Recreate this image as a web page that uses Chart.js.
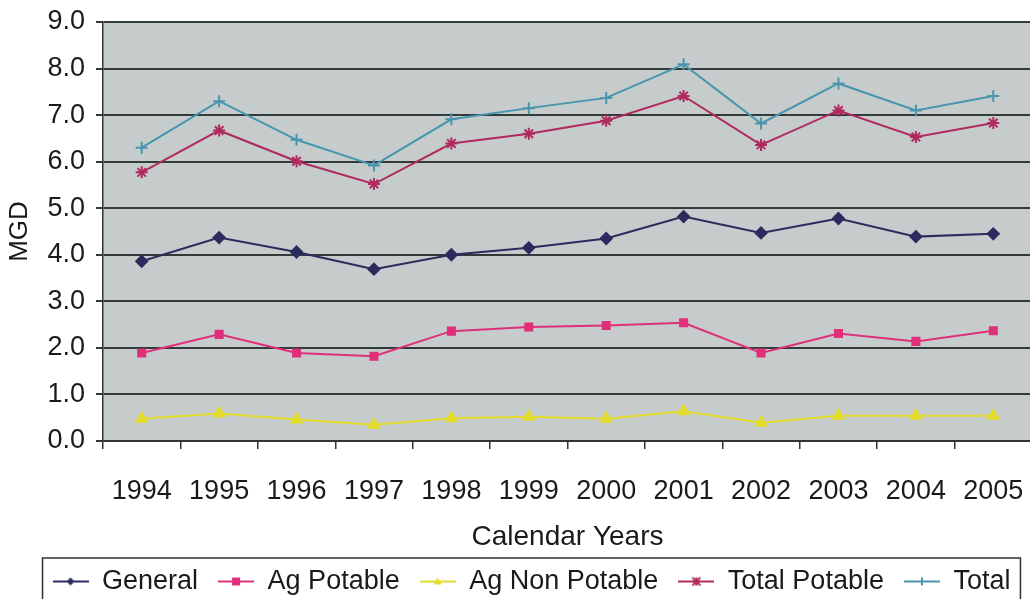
<!DOCTYPE html>
<html>
<head>
<meta charset="utf-8">
<script src="https://cdn.jsdelivr.net/npm/chart.js@4.4.1/dist/chart.umd.min.js"></script>
<style>
  html, body { margin: 0; padding: 0; background: #fff; overflow: hidden; }
  #wrap { width: 1040px; height: 605px; }
</style>
</head>
<body>
<div id="wrap"><canvas id="myChart" width="1040" height="605"></canvas></div>
<script>
const years = ['1994', '1995', '1996', '1997', '1998', '1999', '2000', '2001', '2002', '2003', '2004', '2005'];
const general = [3.86, 4.37, 4.06, 3.69, 4.00, 4.15, 4.35, 4.82, 4.47, 4.78, 4.39, 4.45];
const agPotable = [1.89, 2.29, 1.89, 1.82, 2.36, 2.45, 2.48, 2.54, 1.89, 2.31, 2.14, 2.37];
const agNonPotable = [0.48, 0.59, 0.46, 0.35, 0.49, 0.52, 0.48, 0.64, 0.39, 0.54, 0.54, 0.54];
const totalPotable = [5.77, 6.67, 6.01, 5.52, 6.39, 6.60, 6.88, 7.41, 6.36, 7.10, 6.53, 6.83];
const total = [6.30, 7.30, 6.47, 5.92, 6.91, 7.15, 7.37, 8.09, 6.82, 7.68, 7.10, 7.41];

const FONT = "'Liberation Sans', Arial, sans-serif";

// little line + marker pictures for the legend
function legendIcon(color, style) {
    let c = document.createElement('canvas');
    c.width = 36; c.height = 14;
    let g = c.getContext('2d');
    g.strokeStyle = color; g.fillStyle = color; g.lineWidth = 2;
    g.beginPath(); g.moveTo(0, 7); g.lineTo(36, 7); g.stroke();
    let x = 18, y = 7, r = 4;
    g.beginPath();
    if (style == 'rectRot') {
        g.moveTo(x, y - r); g.lineTo(x + r, y); g.lineTo(x, y + r); g.lineTo(x - r, y); g.closePath(); g.fill();
    } else if (style == 'rect') {
        g.fillRect(x - r, y - r, r * 2, r * 2);
    } else if (style == 'triangle') {
        g.moveTo(x, y - r); g.lineTo(x + r, y + r - 1); g.lineTo(x - r, y + r - 1); g.closePath(); g.fill();
    } else if (style == 'star') {
        g.moveTo(x - r, y - r); g.lineTo(x + r, y + r); g.moveTo(x + r, y - r); g.lineTo(x - r, y + r);
        g.moveTo(x, y - r); g.lineTo(x, y + r); g.stroke();
    } else {
        g.moveTo(x, y - r); g.lineTo(x, y + r); g.stroke();
    }
    return c;
}

const series = [
    { label: 'General', data: general, color: '#2b2b5e', style: 'rectRot', radius: 5.5 },
    { label: 'Ag Potable', data: agPotable, color: '#e0307a', style: 'rect', radius: 5 },
    { label: 'Ag Non Potable', data: agNonPotable, color: '#e4dc2c', style: 'triangle', radius: 6 },
    { label: 'Total Potable', data: totalPotable, color: '#b02a5c', style: 'star', radius: 6 },
    { label: 'Total', data: total, color: '#4896ae', style: 'cross', radius: 6 }
];

const plotBg = {
    id: 'plotBg',
    beforeDraw(chart) {
        const a = chart.chartArea, ctx = chart.ctx;
        ctx.save();
        ctx.fillStyle = '#c6cccc';
        ctx.fillRect(a.left, a.top, a.right - a.left, a.bottom - a.top);
        ctx.restore();
    }
};

const legendBox = {
    id: 'legendBox',
    afterLayout(chart) {
        // move the legend a little to the right, like the original
        chart.legend.left += 15;
        chart.legend.right += 15;
    },
    afterDraw(chart) {
        const boxes = chart.legend.legendHitBoxes;
        if (!boxes || !boxes.length) return;
        const ctx = chart.ctx;
        let l = boxes[0].left - 10;
        let r = boxes[boxes.length - 1].left + boxes[boxes.length - 1].width + 10;
        let t = boxes[0].top - 10;
        let b = boxes[0].top + boxes[0].height + 10;
        ctx.save();
        ctx.strokeStyle = '#333';
        ctx.lineWidth = 1.5;
        ctx.strokeRect(l, t, r - l, b - t);
        ctx.restore();
    }
};

const ctx = document.getElementById('myChart');

new Chart(ctx, {
    type: 'line',
    data: {
        labels: years,
        datasets: series.map(s => ({
            label: s.label,
            data: s.data,
            borderColor: s.color,
            backgroundColor: s.color,
            borderWidth: 2,
            pointStyle: s.style,
            pointRadius: s.radius,
            pointBorderWidth: 2,
            pointBorderColor: s.color,
            pointBackgroundColor: s.color,
            tension: 0
        }))
    },
    options: {
        responsive: false,
        animation: false,
        layout: { padding: { top: 22, right: 7, left: 0, bottom: 0 } },
        scales: {
            x: {
                offset: true,
                afterFit: function (scale) {
                    scale.height = 107;
                    scale.paddingLeft = 0;
                    scale.paddingRight = 0;
                },
                grid: { offset: true, drawOnChartArea: false, color: '#333', tickLength: 8, lineWidth: 1.5 },
                border: { color: '#333', width: 1.5 },
                ticks: { font: { family: FONT, size: 27 }, color: '#1a1a1a', padding: 26, maxRotation: 0 },
                title: { display: true, text: 'Calendar Years', font: { family: FONT, size: 28 }, color: '#1a1a1a', padding: { top: 0, bottom: -6 } }
            },
            y: {
                min: 0,
                max: 9,
                afterFit: function (scale) {
                    scale.width = 103;
                    scale.paddingTop = 0;
                    scale.paddingBottom = 0;
                },
                grid: { color: '#323a3a', lineWidth: 2, tickLength: 7 },
                border: { color: '#333', width: 1.5 },
                ticks: {
                    stepSize: 1,
                    font: { family: FONT, size: 27 },
                    color: '#1a1a1a',
                    padding: 11,
                    callback: v => Number(v).toFixed(1)
                },
                title: { display: true, text: 'MGD', font: { family: FONT, size: 26 }, color: '#1a1a1a', padding: { top: 4, bottom: 0 } }
            }
        },
        plugins: {
            legend: {
                display: true,
                position: 'bottom',
                labels: {
                    usePointStyle: true,
                    pointStyleWidth: 36,
                    font: { family: FONT, size: 27 },
                    color: '#1a1a1a',
                    padding: 20,
                    generateLabels: function (chart) {
                        return series.map((s, i) => ({
                            text: s.label,
                            fillStyle: s.color,
                            strokeStyle: s.color,
                            lineWidth: 0,
                            pointStyle: legendIcon(s.color, s.style),
                            datasetIndex: i,
                            hidden: false,
                            fontColor: '#1a1a1a'
                        }));
                    }
                }
            },
            tooltip: { enabled: false }
        }
    },
    plugins: [plotBg, legendBox]
});
</script>
</body>
</html>
